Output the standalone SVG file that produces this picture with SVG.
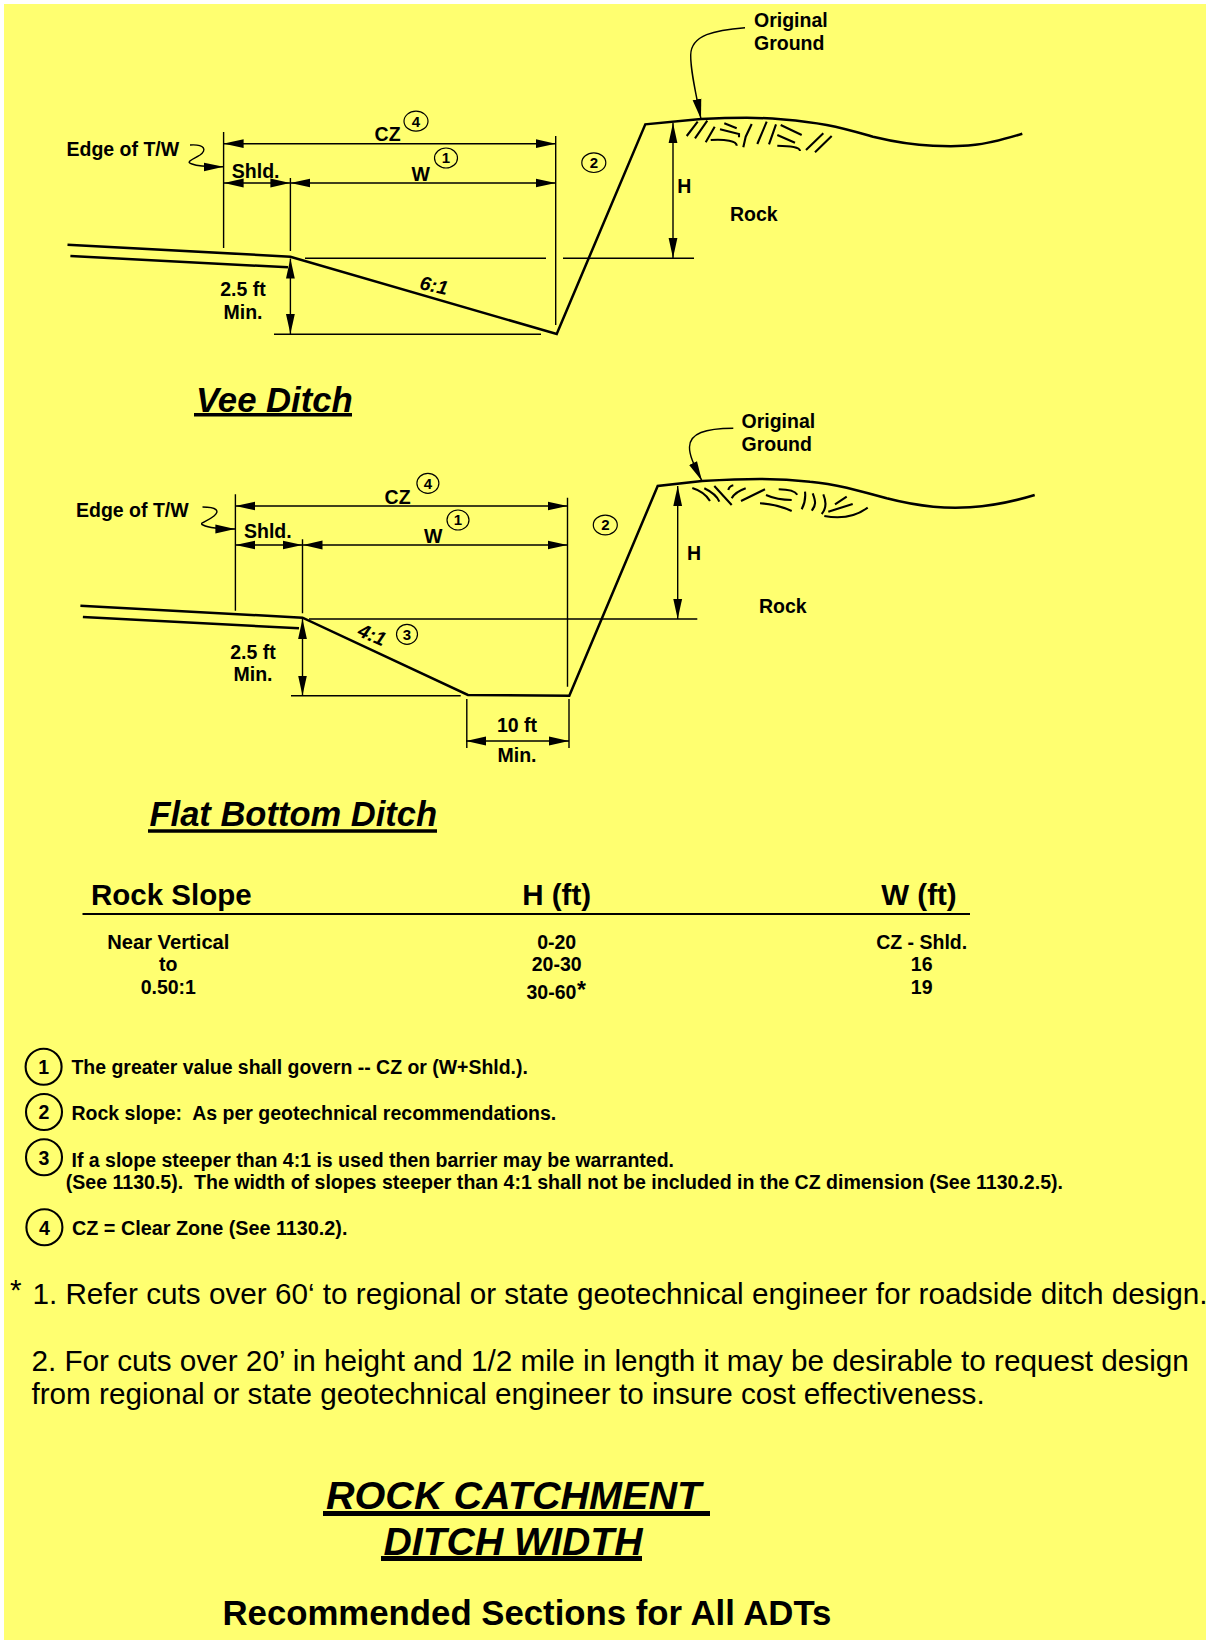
<svg xmlns="http://www.w3.org/2000/svg" width="1206" height="1640" viewBox="0 0 1206 1640">
<style>
text{font-family:"Liberation Sans",Arial,sans-serif;fill:#000}
.b{font-weight:700;font-size:19.5px}
.c{text-anchor:middle}
.n{font-weight:700;font-size:15px;text-anchor:middle}
.i{font-weight:700;font-style:italic}
.r{font-size:29.7px}
.hd{font-weight:700;font-size:29.5px}
.k{fill:none;stroke:#000;stroke-width:2.5;stroke-linejoin:miter}
.t{fill:none;stroke:#000;stroke-width:1.4}
.m{fill:none;stroke:#000;stroke-width:2.1}
.e{fill:none;stroke:#000;stroke-width:1.2}
.u{stroke:#000;fill:none}
.d{marker-start:url(#a);marker-end:url(#a)}
.o{marker-end:url(#a)}
</style>
<defs>
<marker id="a" markerUnits="userSpaceOnUse" markerWidth="20" markerHeight="10" refX="20" refY="5" orient="auto-start-reverse"><path d="M0 .6L20 5L0 9.4z" fill="#000"/></marker>
</defs>
<rect width="1206" height="1640" fill="#fff"/>
<rect x="4" y="4" width="1202" height="1636" fill="#ffff70"/>

<g id="vee-ditch">
<path class="k" d="M67.5 244.7L290.4 256.7L556.7 334L645.3 124.3L701 119C720 118 735 117.7 746.7 117.7C765 117.7 800 120 826.7 125C845 128.5 860 133 873 136.7C895 142 915 145 933 145.7C950 146.5 965 146 973 145C990 143.5 1005 139 1022.3 133.7"/>
<path class="k" d="M70.4 256L288 267.3"/>
<path class="t" d="M223.6 132V248M555.7 136V325M290.4 178V251M305 258.3H546M563 258.3H694M274 334.3H541"/>
<path class="t d" d="M223.6 143.7H555.7"/>
<path class="t d" d="M223.6 183H290.4"/>
<path class="t d" d="M290.4 183H555.7"/>
<path class="t d" d="M290.4 258.5V334"/>
<path class="t d" d="M673 123V258"/>
<path class="t o" d="M190 145C205 144 207 150 200 155C192 160 185 162 192 164C197 166 205 167 223.6 166.7"/>
<path class="t o" d="M745 27.7C715 30 691 35 690.7 55C690.5 70 695 90 701 119"/>
<path class="m" d="M686.7 136L697.7 121.7M695 138.3L707.3 120.7M705.7 142.3L714.7 126.7M710.7 140C725 139 737 141 736.7 145.7M720 129.3L739 134L739 137.3M724.3 123.3L736.7 128.3M743.3 147.3L745.7 136.7L751.7 124M757.3 144L766.7 121.7M769 144.3L776 124.3M777.3 145.7C790 146 800 147 800 151M777.3 135L795 142.7M780.7 125L801.7 135M806 150L823.3 133.3M815 152.3L831.7 136"/>
<text class="b" x="66.5" y="156">Edge of T/W</text>
<text class="b" x="231.8" y="178">Shld.</text>
<text class="b" x="374.6" y="141">CZ</text>
<text class="b" x="411.4" y="181">W</text>
<text class="b c" x="243" y="295.7">2.5 ft</text>
<text class="b c" x="243" y="319">Min.</text>
<text class="b" x="754" y="26.5">Original</text>
<text class="b" x="754" y="50">Ground</text>
<text class="b" x="677.3" y="192.7">H</text>
<text class="b" x="730" y="220.7">Rock</text>
<text class="i" font-size="19.5" text-anchor="middle" transform="translate(432.5 292) rotate(12)">6:1</text>
<ellipse class="e" cx="416" cy="121.2" rx="12" ry="10"/><text class="n" x="416" y="126.5">4</text>
<ellipse class="e" cx="446" cy="158" rx="11.5" ry="10"/><text class="n" x="446" y="163.3">1</text>
<ellipse class="e" cx="593.8" cy="162.7" rx="12" ry="9.8"/><text class="n" x="593.8" y="168">2</text>
<text class="i" font-size="34.7" x="196" y="412">Vee Ditch</text>
<path class="u" stroke-width="3.6" d="M194 414.8H352"/>
</g>

<g id="flat-bottom-ditch">
<path class="k" d="M80.4 605.7L302.5 617.7L467.9 695L569.3 695.7L657.7 486L702 481C720 480 745 479 760 479C780 479 795 480 810 481.7C825 483 835 485 846.7 487.7C860 491 875 495 886.7 498.3C905 503 920 505.5 933.3 506.7C945 507.8 958 508 970 507.3C990 506 1012 502 1034.7 495"/>
<path class="k" d="M82.9 617L299 628.3"/>
<path class="t" d="M235.4 494.3V610.7M567.5 497.7V686.7M302.5 539.3V613.3M309 619H697.3M291 695.7H460.7M466.8 699V748M569 699V748"/>
<path class="t d" d="M235.4 506H567.5"/>
<path class="t d" d="M235.4 545H302.5"/>
<path class="t d" d="M302.5 545H567.5"/>
<path class="t d" d="M302.5 619V695.5"/>
<path class="t d" d="M677.7 486V619"/>
<path class="t d" d="M466 741H569"/>
<path class="t o" d="M202.5 507C217 507 220 511 214 516C208 521 198 523 203 525C207 527 217 529 235.4 529"/>
<path class="t o" d="M733.3 428.3C705 428.5 690 433 689.5 447C689.3 455 693 463 702 481"/>
<path class="m" d="M692.3 488C702 491 707 496 710 501M704.3 488.3C712 492 717 496 719.3 501.7M714.3 486L731.7 505M728.3 490C729 487 730 486 733.3 485.3M731.7 498.3C734 494 738 491 745.7 488.3M741 501L765 489.3M778.7 489.3C790 489.5 795 491 797.3 494.7M766 495C775 499 785 500 791.7 500M760 503.3C775 504 785 508 791.7 511M805 491.7C806 500 804 505 801.7 509.3M812.7 493.3C816 502 816 505 811.7 510.7M823.3 494.3C827 503 826 509 821.7 514M835 504.3L846.7 496.7M828.3 511.7L852.7 504M824.3 516C840 519 855 517 867.7 507.7"/>
<text class="b" x="76" y="517.3">Edge of T/W</text>
<text class="b" x="244" y="537.7">Shld.</text>
<text class="b" x="384.6" y="504.3">CZ</text>
<text class="b" x="424" y="542.7">W</text>
<text class="b c" x="253" y="659">2.5 ft</text>
<text class="b c" x="253" y="681">Min.</text>
<text class="b c" x="517" y="732">10 ft</text>
<text class="b c" x="517" y="761.7">Min.</text>
<text class="b" x="741.5" y="427.7">Original</text>
<text class="b" x="741.5" y="450.7">Ground</text>
<text class="b" x="687" y="560">H</text>
<text class="b" x="759" y="612.7">Rock</text>
<text class="i" font-size="19.5" text-anchor="middle" transform="translate(369.5 641) rotate(23)">4:1</text>
<ellipse class="e" cx="427.9" cy="483.3" rx="11" ry="10"/><text class="n" x="427.9" y="488.6">4</text>
<ellipse class="e" cx="458" cy="520" rx="11" ry="10"/><text class="n" x="458" y="525.3">1</text>
<ellipse class="e" cx="407" cy="634.3" rx="10.5" ry="10"/><text class="n" x="407" y="639.6">3</text>
<ellipse class="e" cx="605.3" cy="525" rx="12" ry="9.8"/><text class="n" x="605.3" y="530.3">2</text>
<text class="i" font-size="34.5" x="149.5" y="826">Flat Bottom Ditch</text>
<path class="u" stroke-width="3.6" d="M148 831H437"/>
</g>

<g id="table">
<text class="hd" x="91" y="905">Rock Slope</text>
<text class="hd c" x="556.7" y="905">H (ft)</text>
<text class="hd c" x="919" y="905">W (ft)</text>
<path class="u" stroke-width="2" d="M82.5 914H970"/>
<text class="b c" style="font-size:20.2px" x="168.3" y="949">Near Vertical</text>
<text class="b c" x="168.3" y="971">to</text>
<text class="b c" x="168.3" y="994">0.50:1</text>
<text class="b c" x="556.7" y="949">0-20</text>
<text class="b c" x="556.7" y="971">20-30</text>
<text class="b" x="526.5" y="999">30-60</text>
<text class="b" style="font-size:23px" x="577" y="998">*</text>
<text class="b c" x="921.7" y="949">CZ - Shld.</text>
<text class="b c" x="921.7" y="971">16</text>
<text class="b c" x="921.7" y="994">19</text>
</g>

<g id="notes">
<circle class="m" cx="43.6" cy="1066.7" r="18"/><text class="b c" x="43.6" y="1074">1</text>
<text class="b" style="font-size:19.45px" x="71.5" y="1074">The greater value shall govern -- CZ or (W+Shld.).</text>
<circle class="m" cx="44" cy="1112" r="18"/><text class="b c" x="44" y="1119">2</text>
<text class="b" x="71.5" y="1120" xml:space="preserve">Rock slope:  As per geotechnical recommendations.</text>
<circle class="m" cx="44" cy="1157.3" r="18"/><text class="b c" x="44" y="1165">3</text>
<text class="b" x="71.5" y="1167.3">If a slope steeper than 4:1 is used then barrier may be warranted.</text>
<text class="b" style="font-size:19.56px" x="65.8" y="1189.3" xml:space="preserve">(See 1130.5).  The width of slopes steeper than 4:1 shall not be included in the CZ dimension (See 1130.2.5).</text>
<circle class="m" cx="44.4" cy="1227.3" r="18"/><text class="b c" x="44.4" y="1234.5">4</text>
<text class="b" style="font-size:19.8px" x="72" y="1235">CZ = Clear Zone (See 1130.2).</text>
</g>

<g id="footnotes">
<text class="r" x="10" y="1299.5">*</text>
<text class="r" x="32.4" y="1304">1. Refer cuts over 60‘ to regional or state geotechnical engineer for roadside ditch design.</text>
<text class="r" x="31.4" y="1371">2. For cuts over 20’ in height and 1/2 mile in length it may be desirable to request design</text>
<text class="r" x="31.4" y="1404">from regional or state geotechnical engineer to insure cost effectiveness.</text>
</g>

<g id="title">
<text class="i" font-size="39.6" x="326" y="1509">ROCK CATCHMENT</text>
<path class="u" stroke-width="5" d="M323 1513.5H710"/>
<text class="i" font-size="39.2" x="383.5" y="1555">DITCH WIDTH</text>
<path class="u" stroke-width="5" d="M381 1558.5H642"/>
<text font-weight="700" font-size="34.75" x="222.5" y="1625">Recommended Sections for All ADTs</text>
</g>
</svg>
